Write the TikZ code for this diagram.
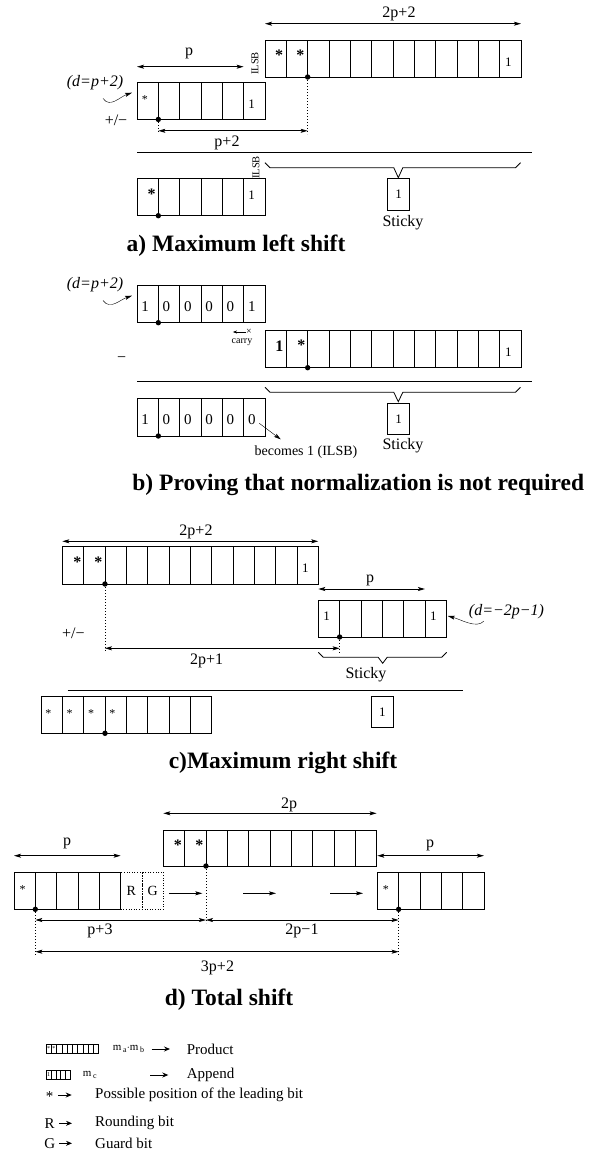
\documentclass[tikz,border=0pt]{standalone}
\usepackage{fontspec}
\setmainfont{Liberation Serif}
\usepackage{tikz}
\usetikzlibrary{arrows.meta, calc}

% one row of bit cells: name, left x, top y, number of cells, cell height
\newcommand{\bitrow}[5]{%
  \foreach \k in {1,...,#4}
    \node[cell, minimum height=#5] (#1-\k) at ({#2+(\k-1)*21.33},#3) {};%
}
% bracket over the bits that go to the sticky bit: left x, right x, notch x, y, notch depth
\newcommand{\stickybrace}[5]{%
  \draw[brc] (#1,#4-5) -- (#1+5,#4) -- (#3-4.5,#4) -- (#3,#4+#5)
    -- (#3+4.5,#4) -- (#2-5,#4) -- (#2,#4-5);%
}

\begin{document}
\begin{tikzpicture}[
  x=1pt, y=-1pt,
  cell/.style={draw, line width=0.8pt, anchor=north west, minimum width=21.33pt,
               inner sep=0pt, outer sep=0pt},
  gcell/.style={cell, dash pattern={on 1pt off 1.6pt}, font=\fontsize{14}{14}\selectfont},
  sticky/.style={draw, line width=0.8pt, anchor=north west, minimum width=22pt,
                 minimum height=31.6pt, inner sep=0pt, font=\fontsize{13}{13}\selectfont},
  bit/.style={font=\fontsize{13}{13}\selectfont, inner sep=0pt},
  bitb/.style={font=\fontsize{15}{15}\selectfont, inner sep=0pt},
  bigone/.style={font=\fontsize{16}{16}\selectfont\bfseries, inner sep=0pt},
  lead/.style={font=\fontsize{16}{16}\selectfont\bfseries, inner sep=0pt},
  leadsm/.style={font=\fontsize{12}{12}\selectfont, inner sep=0pt},
  lbl/.style={font=\fontsize{16}{16}\selectfont, inner sep=0pt},
  note/.style={font=\fontsize{16}{16}\selectfont\itshape, inner sep=0pt},
  ilsb/.style={font=\fontsize{10.5}{10.5}\selectfont, rotate=90, inner sep=0pt},
  smalltxt/.style={font=\fontsize{10}{10}\selectfont, inner sep=0pt},
  midtxt/.style={font=\fontsize{14}{14}\selectfont, inner sep=0pt},
  heading/.style={font=\fontsize{23.5}{24}\selectfont\bfseries, inner sep=0pt},
  subtxt/.style={font=\fontsize{11}{11}\selectfont, inner sep=0pt},
  lgd/.style={font=\fontsize{15}{15}\selectfont, inner sep=0pt, anchor=west},
  dimarrow/.style={<->, line width=0.8pt},
  guide/.style={line width=0.8pt, dash pattern={on 1pt off 2pt}},
  sepline/.style={line width=1pt},
  brc/.style={line width=0.8pt},
  lgarrow/.style={-{Stealth[length=6pt, width=5pt, inset=2pt]}, line width=0.8pt},
  >={Stealth[length=7pt, width=4pt, inset=1.5pt]}
]
\useasboundingbox (0,0) rectangle (592,1151);

% ===== a) maximum left shift =====
\bitrow{aT}{265}{40}{12}{37}
\bitrow{aL}{137}{82.7}{6}{36.7}
\bitrow{aB}{137}{178.3}{6}{37.4}
\node[lead] (aTs1) at ($(aT-1.center)+(3.5,-3.5)$) {*};
\node[lead] (aTs2) at ($(aT-2.center)+(3.5,-3.5)$) {*};
\node[bit] (aT12) at ($(aT-12.center)+(-2,4)$) {1};
\node[leadsm] (aLs1) at ($(aL-1.center)+(-2.7,-1.5)$) {*};
\node[bit] (aL6) at ($(aL-6.center)+(-2.6,3.3)$) {1};
\node[lead] (aBs1) at ($(aB-1.center)+(4,-2.5)$) {*};
\node[bit] (aB6) at ($(aB-6.center)+(-2.6,-2)$) {1};
\foreach \d in {aT-2, aL-1, aB-1}
  \fill (\d.south east) circle (2.7pt);

\node[lbl] (wa) at (399,14) {2p+2};
\draw[dimarrow] ($(aT-1.north west)+(0,-16.3)$) -- ($(aT-12.north east)+(0,-16.3)$);
\node[lbl] (pa) at (189,53) {p};
\draw[dimarrow] ($(aL-1.north west)+(0,-16)$) -- ($(aL-5.north east)+(0,-16)$);
\node[ilsb] (ia1) at (255,63.5) {ILSB};
\node[note] (da) at (95,83) {(d=p+2)};
\draw[->] ($(da.south)+(8,8)$) .. controls +(7,10) and +(-12,4) .. ($(aL-1.north west)+(-5,10)$);
\node[lbl] (pma) at (116,120) {+/−};
\draw[guide] (aT-2.south east) -- ++(0,57);
\draw[guide] (aL-1.south east) -- ++(0,14.7);
\coordinate (sa0) at ($(aL-1.south east)+(0,11.4)$);
\draw[dimarrow] (sa0) -- (sa0 -| aT-2.south east);
\node[lbl] (sa) at (227,143) {p+2};
\draw[sepline] (137,152.3) -- (531.7,152.3);
\stickybrace{265}{520.5}{398.3}{167.7}{10}
\node[ilsb] (ia2) at (256,167.5) {ILSB};
\node[sticky] (sta) at (387.3,178) {1};
\node[lbl] (stla) at (403,222.5) {Sticky};
\node[heading] (ttla) at (236,245.7) {a) Maximum left shift};

% ===== b) no normalization =====
\bitrow{bL}{137}{285.7}{6}{37}
\bitrow{bR}{265}{330.7}{12}{37}
\bitrow{bB}{137}{398.7}{6}{37.3}
\foreach \v [count=\k] in {1,0,0,0,0,1}
  \node[bitb] (bL\k) at ($(bL-\k.center)+(-2.5,2.5)$) {\v};
\foreach \v [count=\k] in {1,0,0,0,0,0}
  \node[bitb] (bB\k) at ($(bB-\k.center)+(-2.5,2.5)$) {\v};
\node[bigone] (bR1) at ($(bR-1.center)+(3.6,-2.5)$) {1};
\node[lead] (bRs2) at ($(bR-2.center)+(4.4,-3.5)$) {*};
\node[bit] (bR12) at ($(bR-12.center)+(-2,3.5)$) {1};
\foreach \d in {bL-1, bR-2, bB-1}
  \fill (\d.south east) circle (2.7pt);

\node[note] (db) at (95,285) {(d=p+2)};
\draw[->] ($(db.south)+(8,8)$) .. controls +(7,10) and +(-12,4) .. ($(bL-1.north west)+(-5,10)$);
\node[smalltxt] (cx) at (249,332) {×};
\draw[->, >={Stealth[length=4pt, width=3pt]}] (cx.west) -- ++(-13,0);
\node[smalltxt] (carry) at (242,342) {carry};
\node[lbl] (mb) at (121.7,360) {−};
\draw[sepline] (137,381) -- (531.7,381);
\stickybrace{265}{520.5}{398.3}{392.3}{9.4}
\node[sticky] (stb) at (387.3,402.7) {1};
\node[lbl] (stlb) at (403,446) {Sticky};
\draw[->] ($(bB-6.center)+(5,6)$) -- ++(21.4,16);
\node[midtxt] (becomes) at (306,452) {becomes 1 (ILSB)};
\node[heading] (ttlb) at (358.3,485) {b) Proving that normalization is not required};

% ===== c) maximum right shift =====
\bitrow{cT}{62.3}{546.7}{12}{37.3}
\bitrow{cR}{318.3}{600}{6}{37}
\bitrow{cB}{41}{696}{8}{37.3}
\node[lead] (cTs1) at ($(cT-1.center)+(4.5,-3.5)$) {*};
\node[lead] (cTs2) at ($(cT-2.center)+(4,-3.5)$) {*};
\node[bit] (cT12) at ($(cT-12.center)+(-2.3,3)$) {1};
\node[bit] (cR1) at ($(cR-1.center)+(-2.3,-2)$) {1};
\node[bit] (cR6) at ($(cR-6.center)+(-2.3,-2)$) {1};
\foreach \k in {1,...,4}
  \node[leadsm] (cBs\k) at ($(cB-\k.center)+(-3.3,-1)$) {*};
\foreach \d in {cT-2, cR-1, cB-3}
  \fill (\d.south east) circle (2.7pt);

\node[lbl] (wc) at (196,531.7) {2p+2};
\draw[dimarrow] ($(cT-1.north west)+(0,-5.4)$) -- ($(cT-12.north east)+(0,-5.4)$);
\node[lbl] (pc) at (370,580) {p};
\draw[dimarrow] ($(cR-1.north west)+(0,-11)$) -- ($(cR-5.north east)+(0,-11)$);
\node[note] (dc) at (506.5,611.7) {(d=−2p−1)};
\draw[->] ($(dc.south west)+(15,2)$) .. controls +(-7,8) and +(12,3) .. ($(cR-6.north east)+(1.5,16)$);
\node[lbl] (pmc) at (73.3,633.3) {+/−};
\draw[guide] (cT-2.south east) -- ++(0,67.7);
\draw[guide] (cR-1.south east) -- ++(0,16);
\coordinate (sc0) at ($(cT-2.south east)+(0,64.3)$);
\draw[dimarrow] (sc0) -- (sc0 -| cR-1.south east);
\node[lbl] (sc) at (206.7,661) {2p+1};
\stickybrace{318.3}{446.7}{382.7}{657.3}{6}
\node[lbl] (stlc) at (366,675) {Sticky};
\draw[sepline] (67.7,690.7) -- (462.7,690.7);
\node[sticky] (stc) at (371,695.7) {1};
\node[heading] (ttlc) at (283,763.3) {c)Maximum right shift};

% ===== d) total shift =====
\bitrow{dT}{163.3}{830}{10}{36}
\bitrow{dL}{14}{872.3}{5}{37}
\node[gcell, minimum height=37] (dRb) at (120.7,872.3) {R};
\node[gcell, minimum height=37] (dGb) at (142,872.3) {G};
\bitrow{dR}{377.3}{872.3}{5}{37}
\node[lead] (dTs1) at ($(dT-1.center)+(3.8,-3)$) {*};
\node[lead] (dTs2) at ($(dT-2.center)+(4,-3)$) {*};
\node[leadsm] (dLs1) at ($(dL-1.center)+(-2,-1)$) {*};
\node[leadsm] (dRs1) at ($(dR-1.center)+(-2,-1)$) {*};
\foreach \d in {dL-1, dT-2, dR-1}
  \fill (\d.south east) circle (2.7pt);

\node[lbl] (wd) at (289,805) {2p};
\draw[dimarrow] ($(dT-1.north west)+(0,-16.7)$) -- ($(dT-10.north east)+(0,-16.7)$);
\node[lbl] (pdl) at (67,843) {p};
\draw[dimarrow] ($(dL-1.north west)+(0,-16.6)$) -- ($(dL-5.north east)+(0,-16.6)$);
\node[lbl] (pdr) at (430,845) {p};
\draw[dimarrow] ($(dR-1.north west)+(0,-16.6)$) -- ($(dR-5.north east)+(0,-16.6)$);
\foreach \a/\b in {169/202.3, 243/276, 330/363}
  \draw[->, line width=0.8pt] (\a,893.3) -- (\b,893.3);
\draw[guide] (dL-1.south east) -- ++(0,47.7);
\draw[guide] (dT-2.south east) -- ++(0,57);
\draw[guide] (dR-1.south east) -- ++(0,47.7);
\coordinate (sd0) at ($(dL-1.south east)+(0,10.7)$);
\draw[dimarrow] (sd0) -- (sd0 -| dT-2.south east);
\draw[dimarrow] (sd0 -| dT-2.south east) -- (sd0 -| dR-1.south east);
\coordinate (sd1) at ($(dL-1.south east)+(0,42.4)$);
\draw[dimarrow] (sd1) -- (sd1 -| dR-1.south east);
\node[lbl] (sd2) at (100,930.7) {p+3};
\node[lbl] (sd3) at (302,930.7) {2p−1};
\node[lbl] (sd4) at (217.5,968.3) {3p+2};
\node[heading] (ttld) at (229,1000) {d) Total shift};

% ===== legend =====
\foreach \k in {0,...,9}
  \draw[line width=0.6pt] ({46+\k*5.27},1044.3) rectangle ++(5.27,9);
\node[font=\fontsize{6}{6}\selectfont, inner sep=0pt] (lgs1) at (48.6,1049) {*};
\node[font=\fontsize{6}{6}\selectfont, inner sep=0pt] (lgs2) at (53.9,1049) {*};
\node[subtxt] (lgm1) at (128.5,1049) {m\,\lower2pt\hbox{\fontsize{8}{8}\selectfont a}$\cdot$m\,\lower2pt\hbox{\fontsize{8}{8}\selectfont b}};
\draw[lgarrow] (151.7,1049) -- (170,1049);
\node[lgd] (lgt1) at (186.7,1049) {Product};

\foreach \k in {0,...,4}
  \draw[line width=0.6pt] ({46+\k*4.93},1070.5) rectangle ++(4.93,9);
\node[font=\fontsize{6}{6}\selectfont, inner sep=0pt] (lgo) at (48.5,1075) {1};
\node[subtxt] (lgm2) at (89.8,1075) {m\,\lower2pt\hbox{\fontsize{8}{8}\selectfont c}};
\draw[lgarrow] (150,1075) -- (168.3,1075);
\node[lgd] (lgt2) at (186.7,1075) {Append};

\node[lgd, anchor=center] (lgk3) at (49.7,1097) {*};
\draw[lgarrow] (58.3,1095) -- (71.7,1095);
\node[lgd] (lgt3) at (95,1095) {Possible position of the leading bit};

\node[lgd, anchor=center] (lgk4) at (49.7,1123.3) {R};
\draw[lgarrow] (59,1123.3) -- (72,1123.3);
\node[lgd] (lgt4) at (95,1123.3) {Rounding bit};

\node[lgd, anchor=center] (lgk5) at (49.7,1143.3) {G};
\draw[lgarrow] (59,1143.3) -- (72,1143.3);
\node[lgd] (lgt5) at (95,1143.3) {Guard bit};
\end{tikzpicture}
\end{document}
